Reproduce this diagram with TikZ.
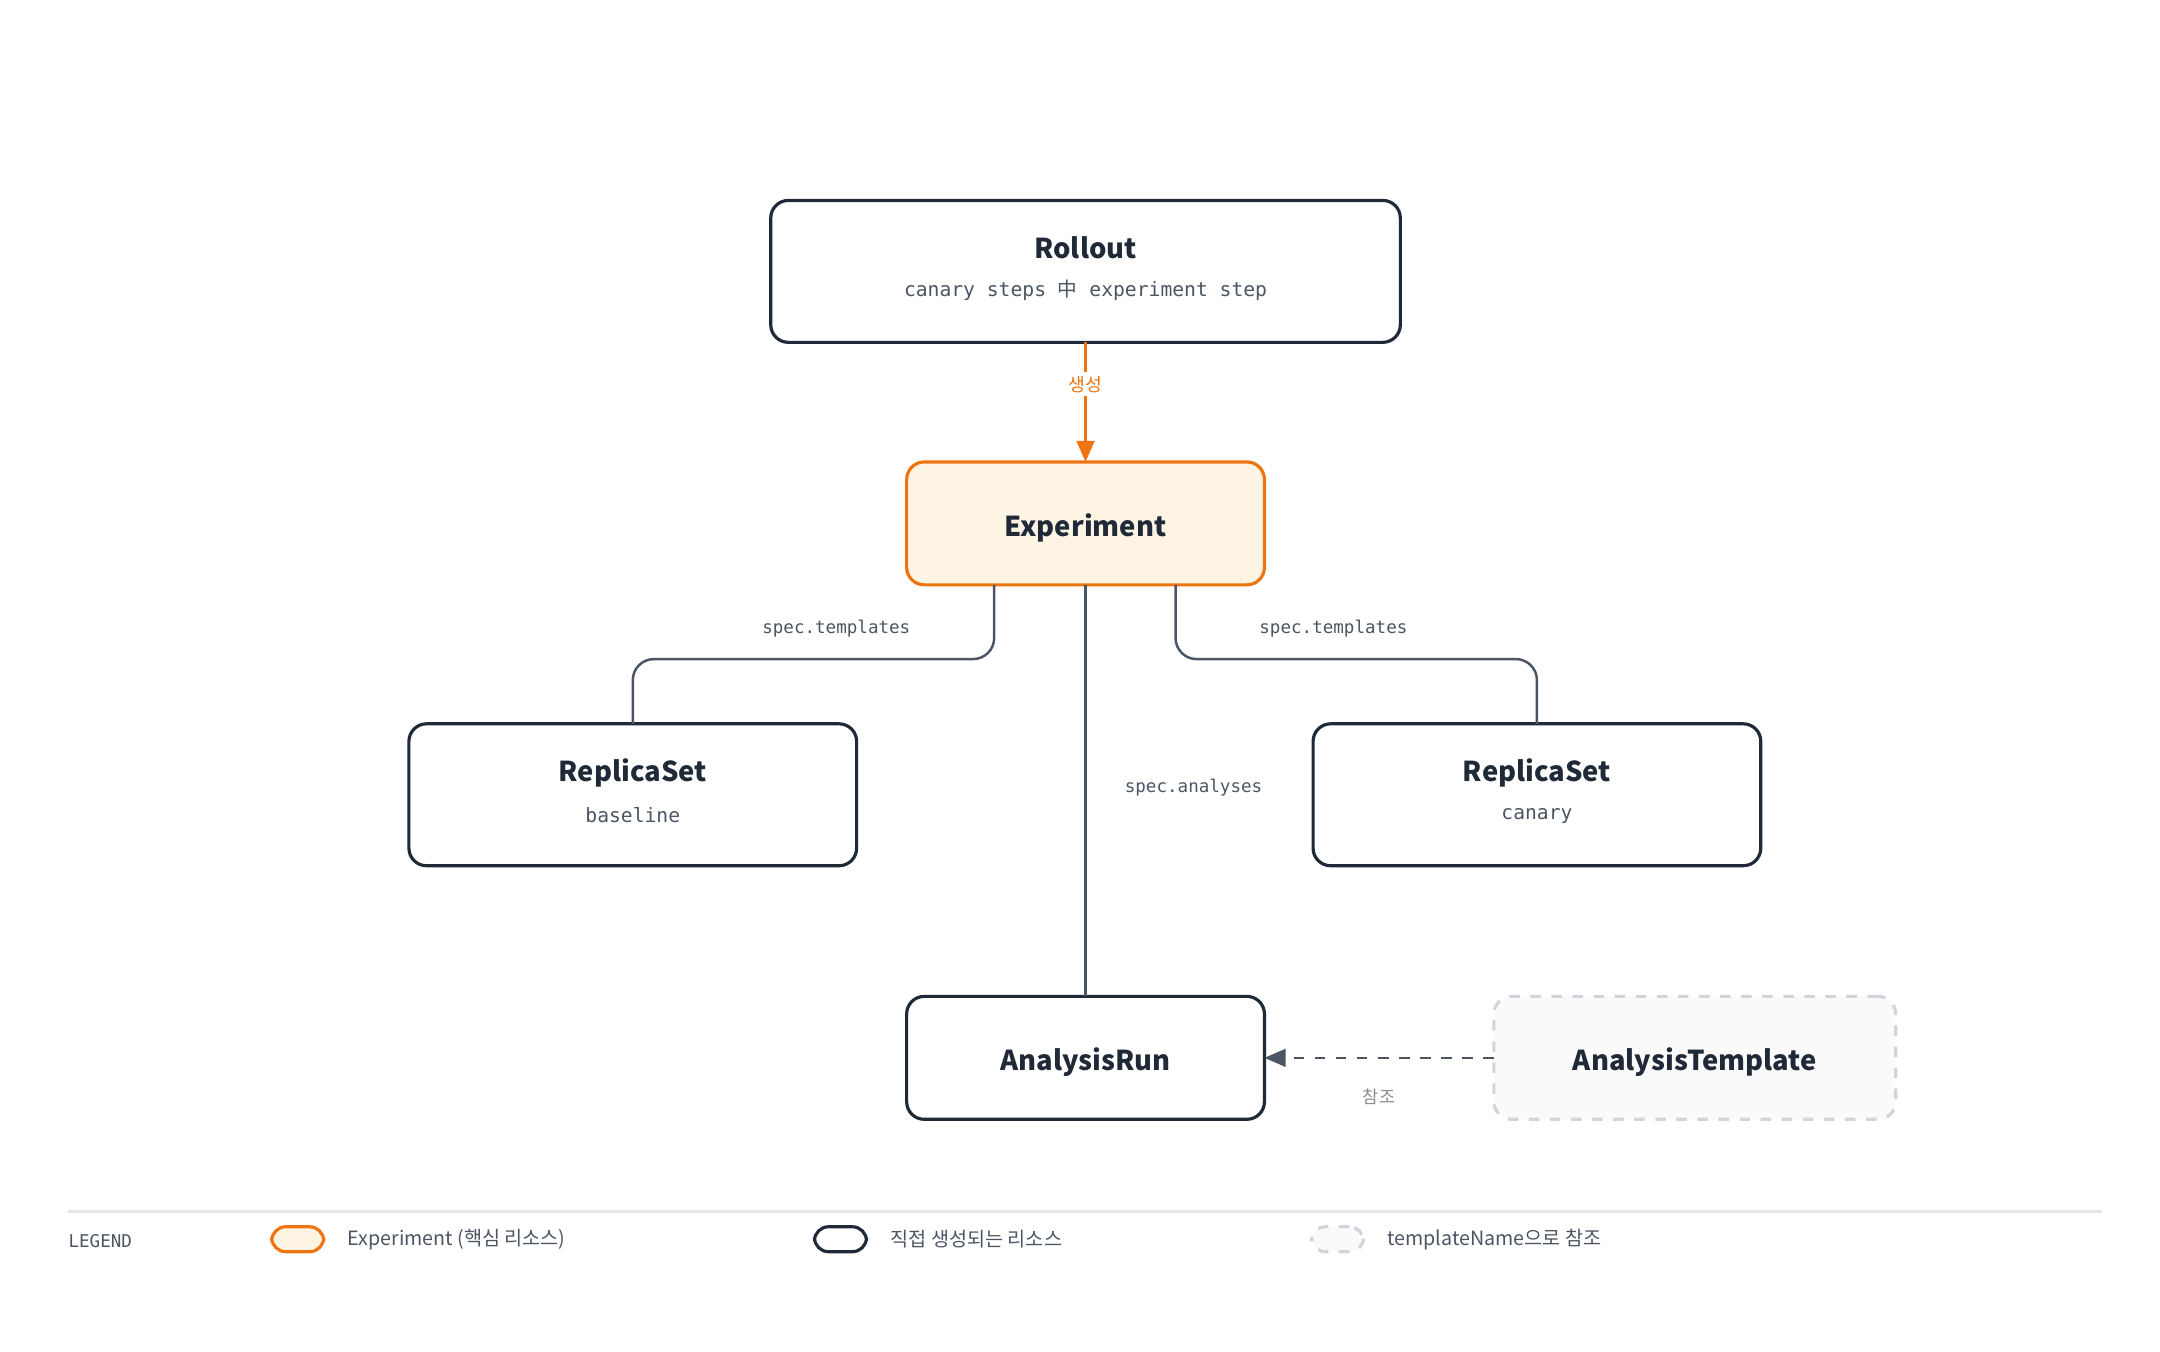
\documentclass[tikz,border=0pt]{standalone}
\usepackage{fontspec}
\setmainfont{Noto Sans CJK KR}
\setmonofont{DejaVu Sans Mono}
\newfontfamily\cjk{Noto Sans CJK KR}
\usetikzlibrary{positioning, arrows.meta}
\definecolor{ink}{HTML}{1F2937}
\definecolor{sub}{HTML}{4B5563}
\definecolor{accent}{HTML}{EE7412}
\definecolor{accentbg}{HTML}{FEF4E4}
\definecolor{ghost}{HTML}{D1D5DB}
\tikzset{
    res/.style={rectangle, draw=ink, line width=0.9pt, fill=white, rounded corners=5pt, align=center, outer sep=0pt},
    core/.style={res, draw=accent, fill=accentbg},
    tmpl/.style={res, draw=ghost, dashed, fill=black!2},
    title/.style={font=\bfseries\fontsize{7.8}{9}\selectfont, text=ink},
    subt/.style={font=\ttfamily\fontsize{5.6}{7}\selectfont, text=sub},
    elabel/.style={font=\ttfamily\fontsize{5}{6}\selectfont, text=sub},
    link/.style={draw=sub, line width=0.7pt, rounded corners=6pt},
    arrow/.style={-{Triangle[length=6pt,width=5pt]}, line width=0.9pt},
    legtext/.style={font=\fontsize{5.6}{7}\selectfont, text=sub, anchor=west},
    swatch/.style={rounded corners=4pt, line width=0.9pt, minimum width=0.52cm, minimum height=0.25cm}
}
\begin{document}
\begin{tikzpicture}[x=0.01385cm, y=-0.01385cm]
        \useasboundingbox (0,0) rectangle (1560,976);
        % Nodes
        \node[res, minimum width=6.3cm, minimum height=1.42cm] (Rollout) at (784,196) {};
        \node[title] at (784,179) {Rollout};
        \node[subt] at (784,210) {canary steps {\cjk 中} experiment step};
        
        \node[core, minimum width=3.58cm, minimum height=1.23cm] (Exp) at (784,378) {};
        \node[title] at (784,381) {Experiment};
        
        \node[res, minimum width=4.48cm, minimum height=1.42cm] (RSBase) at (457,574) {};
        \node[title] at (457,558) {ReplicaSet};
        \node[subt] at (457,589) {baseline};
        
        \node[res, minimum width=4.48cm, minimum height=1.42cm] (RSCan) at (1110,574) {};
        \node[title] at (1110,558) {ReplicaSet};
        \node[subt] at (1110,589) {canary};
        
        \node[res, minimum width=3.58cm, minimum height=1.23cm] (Run) at (784,764) {};
        \node[title] at (784,767) {AnalysisRun};
        
        \node[tmpl, minimum width=4.02cm, minimum height=1.23cm] (Tmpl) at (1224,764) {};
        \node[title] at (1224,767) {AnalysisTemplate};
        
        % Connectors
        \draw[arrow, accent] (Rollout.south) -- node[fill=white, font=\fontsize{5.2}{6}\selectfont, text=accent, inner sep=1pt, pos=0.35] {생성} (Exp.north);
        \draw[link] (Exp.south -| 718,0) -- (718,476) -- (457,476) -- (RSBase.north);
        \draw[link] (Exp.south -| 849,0) -- (849,476) -- (1110,476) -- (RSCan.north);
        \draw[link] (Exp.south) -- (Run.north);
        \draw[arrow, sub, dashed, line width=0.7pt] (Tmpl.west) -- (Run.east);
        \node[elabel] at (604,454) {spec.templates};
        \node[elabel] at (963,454) {spec.templates};
        \node[elabel] at (862,569) {spec.analyses};
        \node[font=\fontsize{5}{6}\selectfont, text=black!45] at (996,792) {참조};
        
        % Legend
        \draw[black!10, line width=0.6pt] (49,875) -- (1518,875);
        \node[font=\ttfamily\fontsize{5}{6}\selectfont, text=sub, anchor=west, inner sep=0pt] at (49,896) {LEGEND};
        \node[swatch, draw=accent, fill=accentbg] (SwCore) at (215,895) {};
        \node[legtext, right=0.1cm of SwCore] {Experiment (핵심 리소스)};
        \node[swatch, draw=ink, fill=white] (SwRes) at (607,895) {};
        \node[legtext, right=0.1cm of SwRes] {직접 생성되는 리소스};
        \node[swatch, draw=ghost, dashed, fill=black!2] (SwTmpl) at (966,895) {};
        \node[legtext, right=0.1cm of SwTmpl] {templateName으로 참조};
    \end{tikzpicture}
\end{document}
